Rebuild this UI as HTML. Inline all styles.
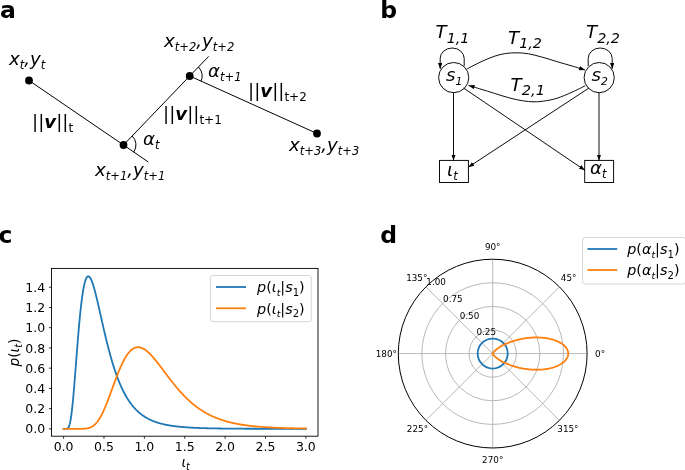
<!DOCTYPE html>
<html><head><meta charset="utf-8"><title>figure</title>
<style>
html,body{margin:0;padding:0;background:#fff;}
svg{display:block;will-change:transform;font-family:"DejaVu Sans","Liberation Sans",sans-serif;}
.it{font-style:italic;}
.b{font-weight:bold;}
</style></head><body>
<svg width="685" height="470" viewBox="0 0 685 470">
<rect width="685" height="470" fill="#fff"/>
<defs>
<marker id="ah" viewBox="0 0 6 4.4" refX="6" refY="2.2" markerWidth="6" markerHeight="4.4" markerUnits="userSpaceOnUse" orient="auto"><path d="M0,0 L6,2.2 L0,4.4 Z" fill="#000"/></marker>
</defs>

<g class="b" font-size="23.5" fill="#000">
<text x="0" y="18">a</text>
<text x="380.2" y="18">b</text>
<text x="-1.6" y="243">c</text>
<text x="380.2" y="242.8">d</text>
</g>
<g stroke="#000" stroke-width="1" fill="none">
<path d="M29,80.5 L123.5,145 L148.3,162"/>
<path d="M123.5,145 L189.7,76 L208.7,56.4"/>
<path d="M189.7,76 L317,133.5"/>
<path d="M132.2,136 A12.5,12.5 0 0 1 133.8,152"/>
<path d="M198.4,67 A12.5,12.5 0 0 1 201.1,81.1"/>
</g>
<circle cx="29" cy="80.5" r="3.9" fill="#000"/>
<circle cx="123.5" cy="145" r="3.9" fill="#000"/>
<circle cx="189.7" cy="76" r="3.9" fill="#000"/>
<circle cx="317" cy="133.5" r="3.9" fill="#000"/>
<g font-size="18.2" fill="#000">
<text x="9" y="65" class="it">x<tspan font-size="11.5" dy="4.0">t</tspan><tspan dy="-4.0" font-size="18.2">&#8203;</tspan>,y<tspan font-size="11.5" dy="4.0">t</tspan><tspan dy="-4.0" font-size="18.2">&#8203;</tspan></text>
<text x="95" y="176" class="it">x<tspan font-size="11.5" dy="4.0">t+1</tspan><tspan dy="-4.0" font-size="18.2">&#8203;</tspan>,y<tspan font-size="11.5" dy="4.0">t+1</tspan><tspan dy="-4.0" font-size="18.2">&#8203;</tspan></text>
<text x="164" y="47" class="it">x<tspan font-size="11.5" dy="4.0">t+2</tspan><tspan dy="-4.0" font-size="18.2">&#8203;</tspan>,y<tspan font-size="11.5" dy="4.0">t+2</tspan><tspan dy="-4.0" font-size="18.2">&#8203;</tspan></text>
<text x="289" y="151" class="it">x<tspan font-size="11.5" dy="4.0">t+3</tspan><tspan dy="-4.0" font-size="18.2">&#8203;</tspan>,y<tspan font-size="11.5" dy="4.0">t+3</tspan><tspan dy="-4.0" font-size="18.2">&#8203;</tspan></text>
<text x="143" y="145" class="it">α<tspan font-size="11.5" dy="4.0">t</tspan><tspan dy="-4.0" font-size="18.2">&#8203;</tspan></text>
<text x="208" y="77" class="it">α<tspan font-size="11.5" dy="4.0">t+1</tspan><tspan dy="-4.0" font-size="18.2">&#8203;</tspan></text>
<text x="32" y="128">||<tspan class="it b">v</tspan>||<tspan font-size="12" dy="4">t</tspan></text>
<text x="163" y="120">||<tspan class="it b">v</tspan>||<tspan font-size="12" dy="4">t+1</tspan></text>
<text x="248" y="97">||<tspan class="it b">v</tspan>||<tspan font-size="12" dy="4">t+2</tspan></text>
</g>
<g stroke="#000" stroke-width="0.95" fill="none">
<circle cx="453.7" cy="77.6" r="15.1"/>
<circle cx="599.2" cy="77.6" r="15.1"/>
<rect x="439.5" y="160.4" width="28.9" height="22.1"/>
<rect x="584.7" y="160.4" width="28.9" height="22.1"/>
<path d="M453.5,92.7 L453.5,160.5" marker-end="url(#ah)"/>
<path d="M599,92.7 L599,160.5" marker-end="url(#ah)"/>
<path d="M463.5,88 L584.9,170.3" marker-end="url(#ah)"/>
<path d="M589,88 L468.3,167.2" marker-end="url(#ah)"/>
<path d="M466.5,69.2 C468.9,68.0 476.4,63.9 481.0,61.8 C485.6,59.6 490.2,57.7 494.3,56.3 C498.4,54.9 501.8,54.1 505.6,53.5 C509.4,52.9 513.2,52.8 517.0,52.8 C520.8,52.8 524.3,53.1 528.4,53.8 C532.5,54.5 537.0,55.7 541.7,57.0 C546.5,58.3 551.9,60.1 556.9,61.6 C561.9,63.1 567.3,64.6 572.0,66.0 C576.7,67.4 582.8,69.3 585.0,70.0" marker-end="url(#ah)"/>
<path d="M585.3,85.7 C583.1,86.8 576.7,90.1 572.0,92.2 C567.3,94.3 561.6,96.8 556.9,98.3 C552.2,99.8 547.4,100.5 543.6,101.1 C539.8,101.7 537.6,101.8 534.1,101.8 C530.6,101.8 526.8,101.4 522.7,100.8 C518.6,100.2 514.1,99.2 509.4,97.9 C504.7,96.7 499.0,94.8 494.3,93.3 C489.6,91.8 485.3,90.5 481.0,89.2 C476.7,87.9 470.7,86.0 468.6,85.4" marker-end="url(#ah)"/>
<path d="M464.2,66 L464.2,58.5 A12,10.5 0 0 0 440.2,58.5 L440.2,68.9" marker-end="url(#ah)"/>
<path d="M588.2,66 L588.2,58.5 A12,10.5 0 0 1 612.2,58.5 L612.2,68.9" marker-end="url(#ah)"/>
</g>
<g font-size="18.2" fill="#000" class="it">
<text x="435.5" y="38.2">T<tspan font-size="14.3" dy="4.7">1,1</tspan><tspan dy="-4.7" font-size="18.2">&#8203;</tspan></text>
<text x="508" y="43.5">T<tspan font-size="14.3" dy="4.7">1,2</tspan><tspan dy="-4.7" font-size="18.2">&#8203;</tspan></text>
<text x="586" y="38.2">T<tspan font-size="14.3" dy="4.7">2,2</tspan><tspan dy="-4.7" font-size="18.2">&#8203;</tspan></text>
<text x="510.6" y="90.5">T<tspan font-size="14.6" dy="4.7">2,1</tspan><tspan dy="-4.7" font-size="18.2">&#8203;</tspan></text>
<text x="445.9" y="81.3">s<tspan font-size="10.8" dy="3.9">1</tspan><tspan dy="-3.9" font-size="18.2">&#8203;</tspan></text>
<text x="591.6" y="81.3">s<tspan font-size="10.8" dy="3.9">2</tspan><tspan dy="-3.9" font-size="18.2">&#8203;</tspan></text>
<text x="447" y="175.5">ι<tspan font-size="11.5" dy="4.0">t</tspan><tspan dy="-4.0" font-size="18.2">&#8203;</tspan></text>
<text x="590" y="174.3">α<tspan font-size="11.5" dy="4.0">t</tspan><tspan dy="-4.0" font-size="18.2">&#8203;</tspan></text>
</g>
<clipPath id="cc"><rect x="51.5" y="268.4" width="266.5" height="167.8"/></clipPath>
<g fill="none" stroke-width="1.8" stroke-linejoin="round" stroke-linecap="square" clip-path="url(#cc)">
<path d="M63.60,428.85 L64.00,428.85 L64.41,428.85 L64.81,428.85 L65.22,428.85 L65.62,428.85 L66.03,428.84 L66.43,428.82 L66.84,428.75 L67.24,428.63 L67.64,428.41 L68.05,428.05 L68.45,427.50 L68.86,426.73 L69.26,425.68 L69.67,424.33 L70.07,422.65 L70.48,420.62 L70.88,418.23 L71.29,415.47 L71.69,412.35 L72.09,408.89 L72.50,405.11 L72.90,401.03 L73.31,396.68 L73.71,392.09 L74.12,387.31 L74.52,382.36 L74.93,377.28 L75.33,372.11 L75.73,366.88 L76.14,361.63 L76.54,356.39 L76.95,351.19 L77.35,346.06 L77.76,341.02 L78.16,336.09 L78.57,331.30 L78.97,326.67 L79.37,322.20 L79.78,317.92 L80.18,313.84 L80.59,309.95 L80.99,306.28 L81.40,302.82 L81.80,299.59 L82.21,296.57 L82.61,293.78 L83.01,291.21 L83.42,288.87 L83.82,286.74 L84.23,284.82 L84.63,283.12 L85.04,281.62 L85.44,280.33 L85.85,279.22 L86.25,278.31 L86.66,277.58 L87.06,277.02 L87.46,276.63 L87.87,276.41 L88.27,276.33 L88.68,276.41 L89.08,276.62 L89.49,276.96 L89.89,277.43 L90.30,278.02 L90.70,278.72 L91.10,279.52 L91.51,280.43 L91.91,281.42 L92.32,282.50 L92.72,283.66 L93.13,284.89 L93.53,286.19 L93.94,287.55 L94.34,288.98 L94.74,290.45 L95.15,291.97 L95.55,293.54 L95.96,295.14 L96.36,296.78 L96.77,298.45 L97.17,300.14 L97.58,301.86 L97.98,303.60 L98.38,305.36 L98.79,307.13 L99.19,308.92 L99.60,310.71 L100.00,312.50 L100.41,314.30 L100.81,316.11 L101.22,317.91 L101.62,319.71 L102.03,321.50 L102.43,323.29 L102.83,325.07 L103.24,326.84 L103.64,328.60 L104.05,330.35 L104.45,332.08 L104.86,333.81 L105.26,335.51 L105.67,337.20 L106.07,338.88 L106.47,340.53 L106.88,342.17 L107.28,343.79 L107.69,345.39 L108.09,346.97 L108.50,348.53 L108.90,350.07 L109.31,351.59 L109.71,353.09 L110.11,354.56 L110.52,356.02 L110.92,357.45 L111.33,358.86 L111.73,360.25 L112.14,361.62 L112.54,362.96 L112.95,364.29 L113.35,365.59 L113.75,366.87 L114.16,368.13 L114.56,369.36 L114.97,370.58 L115.37,371.77 L115.78,372.94 L116.18,374.09 L116.59,375.22 L116.99,376.33 L117.40,377.42 L117.80,378.49 L118.20,379.54 L118.61,380.57 L119.01,381.57 L119.42,382.56 L119.82,383.53 L120.23,384.48 L120.63,385.42 L121.04,386.33 L121.44,387.23 L121.84,388.11 L122.25,388.97 L122.65,389.81 L123.06,390.64 L123.46,391.45 L123.87,392.24 L124.27,393.02 L124.68,393.78 L125.08,394.52 L125.48,395.25 L125.89,395.97 L126.29,396.67 L126.70,397.35 L127.10,398.03 L127.51,398.68 L127.91,399.33 L128.32,399.96 L128.72,400.57 L129.12,401.18 L129.53,401.77 L129.93,402.34 L130.34,402.91 L130.74,403.46 L131.15,404.01 L131.55,404.54 L131.96,405.05 L132.36,405.56 L132.77,406.06 L133.17,406.55 L133.57,407.02 L133.98,407.49 L134.38,407.94 L134.79,408.39 L135.19,408.82 L135.60,409.25 L136.00,409.67 L136.41,410.08 L136.81,410.48 L137.21,410.87 L137.62,411.25 L138.02,411.62 L138.43,411.99 L138.83,412.35 L139.24,412.70 L139.64,413.04 L140.05,413.37 L140.45,413.70 L140.85,414.02 L141.26,414.34 L141.66,414.64 L142.07,414.94 L142.47,415.24 L142.88,415.52 L143.28,415.80 L143.69,416.08 L144.09,416.35 L144.49,416.61 L144.90,416.87 L145.30,417.12 L145.71,417.36 L146.11,417.61 L146.52,417.84 L146.92,418.07 L147.33,418.30 L147.73,418.52 L148.14,418.73 L148.54,418.94 L148.94,419.15 L149.35,419.35 L149.75,419.55 L150.16,419.74 L150.56,419.93 L150.97,420.12 L151.37,420.30 L151.78,420.47 L152.18,420.65 L152.58,420.82 L152.99,420.98 L153.39,421.15 L153.80,421.30 L154.20,421.46 L154.61,421.61 L155.01,421.76 L155.42,421.90 L155.82,422.05 L156.22,422.19 L156.63,422.32 L157.03,422.46 L157.44,422.59 L157.84,422.71 L158.25,422.84 L158.65,422.96 L159.06,423.08 L159.46,423.20 L159.86,423.31 L160.27,423.42 L160.67,423.53 L161.08,423.64 L161.48,423.75 L161.89,423.85 L162.29,423.95 L162.70,424.05 L163.10,424.15 L163.51,424.24 L163.91,424.33 L164.31,424.42 L164.72,424.51 L165.12,424.60 L165.53,424.68 L165.93,424.77 L166.34,424.85 L166.74,424.93 L167.15,425.00 L167.55,425.08 L167.95,425.16 L168.36,425.23 L168.76,425.30 L169.17,425.37 L169.57,425.44 L169.98,425.51 L170.38,425.57 L170.79,425.64 L171.19,425.70 L171.59,425.76 L172.00,425.82 L172.40,425.88 L172.81,425.94 L173.21,426.00 L173.62,426.05 L174.02,426.11 L174.43,426.16 L174.83,426.21 L175.23,426.26 L175.64,426.31 L176.04,426.36 L176.45,426.41 L176.85,426.46 L177.26,426.50 L177.66,426.55 L178.07,426.59 L178.47,426.64 L178.88,426.68 L179.28,426.72 L179.68,426.76 L180.09,426.80 L180.49,426.84 L180.90,426.88 L181.30,426.92 L181.71,426.95 L182.11,426.99 L182.52,427.02 L182.92,427.06 L183.32,427.09 L183.73,427.13 L184.13,427.16 L184.54,427.19 L184.94,427.22 L185.35,427.25 L185.75,427.28 L186.16,427.31 L186.56,427.34 L186.96,427.37 L187.37,427.40 L187.77,427.42 L188.18,427.45 L188.58,427.48 L188.99,427.50 L189.39,427.53 L189.80,427.55 L190.20,427.57 L190.60,427.60 L191.01,427.62 L191.41,427.64 L191.82,427.67 L192.22,427.69 L192.63,427.71 L193.03,427.73 L193.44,427.75 L193.84,427.77 L194.25,427.79 L194.65,427.81 L195.05,427.83 L195.46,427.85 L195.86,427.87 L196.27,427.88 L196.67,427.90 L197.08,427.92 L197.48,427.94 L197.89,427.95 L198.29,427.97 L198.69,427.98 L199.10,428.00 L199.50,428.02 L199.91,428.03 L200.31,428.05 L200.72,428.06 L201.12,428.07 L201.53,428.09 L201.93,428.10 L202.33,428.11 L202.74,428.13 L203.14,428.14 L203.55,428.15 L203.95,428.17 L204.36,428.18 L204.76,428.19 L205.17,428.20 L205.57,428.21 L205.97,428.22 L206.38,428.24 L206.78,428.25 L207.19,428.26 L207.59,428.27 L208.00,428.28 L208.40,428.29 L208.81,428.30 L209.21,428.31 L209.62,428.32 L210.02,428.33 L210.42,428.33 L210.83,428.34 L211.23,428.35 L211.64,428.36 L212.04,428.37 L212.45,428.38 L212.85,428.39 L213.26,428.39 L213.66,428.40 L214.06,428.41 L214.47,428.42 L214.87,428.42 L215.28,428.43 L215.68,428.44 L216.09,428.45 L216.49,428.45 L216.90,428.46 L217.30,428.47 L217.70,428.47 L218.11,428.48 L218.51,428.49 L218.92,428.49 L219.32,428.50 L219.73,428.50 L220.13,428.51 L220.54,428.52 L220.94,428.52 L221.34,428.53 L221.75,428.53 L222.15,428.54 L222.56,428.54 L222.96,428.55 L223.37,428.55 L223.77,428.56 L224.18,428.56 L224.58,428.57 L224.99,428.57 L225.39,428.58 L225.79,428.58 L226.20,428.59 L226.60,428.59 L227.01,428.60 L227.41,428.60 L227.82,428.60 L228.22,428.61 L228.63,428.61 L229.03,428.62 L229.43,428.62 L229.84,428.62 L230.24,428.63 L230.65,428.63 L231.05,428.63 L231.46,428.64 L231.86,428.64 L232.27,428.64 L232.67,428.65 L233.07,428.65 L233.48,428.65 L233.88,428.66 L234.29,428.66 L234.69,428.66 L235.10,428.67 L235.50,428.67 L235.91,428.67 L236.31,428.68 L236.71,428.68 L237.12,428.68 L237.52,428.68 L237.93,428.69 L238.33,428.69 L238.74,428.69 L239.14,428.69 L239.55,428.70 L239.95,428.70 L240.36,428.70 L240.76,428.70 L241.16,428.71 L241.57,428.71 L241.97,428.71 L242.38,428.71 L242.78,428.72 L243.19,428.72 L243.59,428.72 L244.00,428.72 L244.40,428.72 L244.80,428.73 L245.21,428.73 L245.61,428.73 L246.02,428.73 L246.42,428.73 L246.83,428.74 L247.23,428.74 L247.64,428.74 L248.04,428.74 L248.44,428.74 L248.85,428.74 L249.25,428.75 L249.66,428.75 L250.06,428.75 L250.47,428.75 L250.87,428.75 L251.28,428.75 L251.68,428.75 L252.08,428.76 L252.49,428.76 L252.89,428.76 L253.30,428.76 L253.70,428.76 L254.11,428.76 L254.51,428.76 L254.92,428.77 L255.32,428.77 L255.73,428.77 L256.13,428.77 L256.53,428.77 L256.94,428.77 L257.34,428.77 L257.75,428.77 L258.15,428.78 L258.56,428.78 L258.96,428.78 L259.37,428.78 L259.77,428.78 L260.17,428.78 L260.58,428.78 L260.98,428.78 L261.39,428.78 L261.79,428.79 L262.20,428.79 L262.60,428.79 L263.01,428.79 L263.41,428.79 L263.81,428.79 L264.22,428.79 L264.62,428.79 L265.03,428.79 L265.43,428.79 L265.84,428.79 L266.24,428.80 L266.65,428.80 L267.05,428.80 L267.45,428.80 L267.86,428.80 L268.26,428.80 L268.67,428.80 L269.07,428.80 L269.48,428.80 L269.88,428.80 L270.29,428.80 L270.69,428.80 L271.10,428.80 L271.50,428.80 L271.90,428.81 L272.31,428.81 L272.71,428.81 L273.12,428.81 L273.52,428.81 L273.93,428.81 L274.33,428.81 L274.74,428.81 L275.14,428.81 L275.54,428.81 L275.95,428.81 L276.35,428.81 L276.76,428.81 L277.16,428.81 L277.57,428.81 L277.97,428.81 L278.38,428.81 L278.78,428.82 L279.18,428.82 L279.59,428.82 L279.99,428.82 L280.40,428.82 L280.80,428.82 L281.21,428.82 L281.61,428.82 L282.02,428.82 L282.42,428.82 L282.82,428.82 L283.23,428.82 L283.63,428.82 L284.04,428.82 L284.44,428.82 L284.85,428.82 L285.25,428.82 L285.66,428.82 L286.06,428.82 L286.47,428.82 L286.87,428.82 L287.27,428.82 L287.68,428.82 L288.08,428.83 L288.49,428.83 L288.89,428.83 L289.30,428.83 L289.70,428.83 L290.11,428.83 L290.51,428.83 L290.91,428.83 L291.32,428.83 L291.72,428.83 L292.13,428.83 L292.53,428.83 L292.94,428.83 L293.34,428.83 L293.75,428.83 L294.15,428.83 L294.55,428.83 L294.96,428.83 L295.36,428.83 L295.77,428.83 L296.17,428.83 L296.58,428.83 L296.98,428.83 L297.39,428.83 L297.79,428.83 L298.19,428.83 L298.60,428.83 L299.00,428.83 L299.41,428.83 L299.81,428.83 L300.22,428.83 L300.62,428.83 L301.03,428.83 L301.43,428.83 L301.84,428.83 L302.24,428.83 L302.64,428.83 L303.05,428.84 L303.45,428.84 L303.86,428.84 L304.26,428.84 L304.67,428.84 L305.07,428.84 L305.48,428.84 L305.88,428.84" stroke="#1f77b4"/>
<path d="M63.60,428.85 L64.00,428.85 L64.41,428.85 L64.81,428.85 L65.22,428.85 L65.62,428.85 L66.03,428.85 L66.43,428.85 L66.84,428.85 L67.24,428.85 L67.64,428.85 L68.05,428.85 L68.45,428.85 L68.86,428.85 L69.26,428.85 L69.67,428.85 L70.07,428.85 L70.48,428.85 L70.88,428.85 L71.29,428.85 L71.69,428.85 L72.09,428.85 L72.50,428.85 L72.90,428.85 L73.31,428.85 L73.71,428.85 L74.12,428.85 L74.52,428.85 L74.93,428.85 L75.33,428.85 L75.73,428.85 L76.14,428.85 L76.54,428.85 L76.95,428.85 L77.35,428.85 L77.76,428.85 L78.16,428.85 L78.57,428.85 L78.97,428.85 L79.37,428.84 L79.78,428.84 L80.18,428.84 L80.59,428.83 L80.99,428.83 L81.40,428.82 L81.80,428.81 L82.21,428.80 L82.61,428.79 L83.01,428.78 L83.42,428.76 L83.82,428.74 L84.23,428.72 L84.63,428.69 L85.04,428.66 L85.44,428.62 L85.85,428.57 L86.25,428.52 L86.66,428.47 L87.06,428.40 L87.46,428.33 L87.87,428.24 L88.27,428.15 L88.68,428.05 L89.08,427.93 L89.49,427.80 L89.89,427.66 L90.30,427.50 L90.70,427.33 L91.10,427.15 L91.51,426.94 L91.91,426.72 L92.32,426.48 L92.72,426.23 L93.13,425.95 L93.53,425.65 L93.94,425.33 L94.34,424.99 L94.74,424.63 L95.15,424.25 L95.55,423.84 L95.96,423.41 L96.36,422.96 L96.77,422.48 L97.17,421.98 L97.58,421.45 L97.98,420.90 L98.38,420.33 L98.79,419.72 L99.19,419.10 L99.60,418.45 L100.00,417.77 L100.41,417.07 L100.81,416.35 L101.22,415.60 L101.62,414.83 L102.03,414.04 L102.43,413.22 L102.83,412.39 L103.24,411.53 L103.64,410.65 L104.05,409.75 L104.45,408.83 L104.86,407.89 L105.26,406.94 L105.67,405.96 L106.07,404.98 L106.47,403.97 L106.88,402.95 L107.28,401.92 L107.69,400.88 L108.09,399.83 L108.50,398.76 L108.90,397.69 L109.31,396.60 L109.71,395.51 L110.11,394.42 L110.52,393.32 L110.92,392.21 L111.33,391.10 L111.73,389.99 L112.14,388.88 L112.54,387.77 L112.95,386.66 L113.35,385.55 L113.75,384.44 L114.16,383.34 L114.56,382.24 L114.97,381.15 L115.37,380.07 L115.78,378.99 L116.18,377.92 L116.59,376.86 L116.99,375.82 L117.40,374.78 L117.80,373.75 L118.20,372.74 L118.61,371.74 L119.01,370.76 L119.42,369.79 L119.82,368.83 L120.23,367.90 L120.63,366.98 L121.04,366.07 L121.44,365.19 L121.84,364.32 L122.25,363.47 L122.65,362.64 L123.06,361.83 L123.46,361.04 L123.87,360.27 L124.27,359.52 L124.68,358.79 L125.08,358.09 L125.48,357.40 L125.89,356.74 L126.29,356.10 L126.70,355.48 L127.10,354.88 L127.51,354.31 L127.91,353.76 L128.32,353.23 L128.72,352.72 L129.12,352.24 L129.53,351.78 L129.93,351.34 L130.34,350.93 L130.74,350.54 L131.15,350.17 L131.55,349.82 L131.96,349.50 L132.36,349.19 L132.77,348.91 L133.17,348.66 L133.57,348.42 L133.98,348.21 L134.38,348.01 L134.79,347.84 L135.19,347.69 L135.60,347.56 L136.00,347.45 L136.41,347.36 L136.81,347.29 L137.21,347.24 L137.62,347.21 L138.02,347.20 L138.43,347.21 L138.83,347.24 L139.24,347.28 L139.64,347.34 L140.05,347.42 L140.45,347.52 L140.85,347.64 L141.26,347.77 L141.66,347.91 L142.07,348.08 L142.47,348.25 L142.88,348.45 L143.28,348.66 L143.69,348.88 L144.09,349.11 L144.49,349.37 L144.90,349.63 L145.30,349.91 L145.71,350.20 L146.11,350.50 L146.52,350.81 L146.92,351.14 L147.33,351.47 L147.73,351.82 L148.14,352.18 L148.54,352.55 L148.94,352.93 L149.35,353.31 L149.75,353.71 L150.16,354.12 L150.56,354.53 L150.97,354.95 L151.37,355.39 L151.78,355.82 L152.18,356.27 L152.58,356.72 L152.99,357.18 L153.39,357.65 L153.80,358.12 L154.20,358.60 L154.61,359.08 L155.01,359.57 L155.42,360.06 L155.82,360.56 L156.22,361.06 L156.63,361.57 L157.03,362.08 L157.44,362.59 L157.84,363.11 L158.25,363.63 L158.65,364.15 L159.06,364.68 L159.46,365.21 L159.86,365.74 L160.27,366.27 L160.67,366.80 L161.08,367.34 L161.48,367.88 L161.89,368.41 L162.29,368.95 L162.70,369.49 L163.10,370.03 L163.51,370.58 L163.91,371.12 L164.31,371.66 L164.72,372.20 L165.12,372.74 L165.53,373.28 L165.93,373.82 L166.34,374.36 L166.74,374.90 L167.15,375.44 L167.55,375.97 L167.95,376.51 L168.36,377.04 L168.76,377.57 L169.17,378.10 L169.57,378.63 L169.98,379.16 L170.38,379.69 L170.79,380.21 L171.19,380.73 L171.59,381.25 L172.00,381.76 L172.40,382.28 L172.81,382.79 L173.21,383.30 L173.62,383.80 L174.02,384.31 L174.43,384.81 L174.83,385.30 L175.23,385.80 L175.64,386.29 L176.04,386.78 L176.45,387.26 L176.85,387.75 L177.26,388.22 L177.66,388.70 L178.07,389.17 L178.47,389.64 L178.88,390.11 L179.28,390.57 L179.68,391.03 L180.09,391.48 L180.49,391.93 L180.90,392.38 L181.30,392.82 L181.71,393.26 L182.11,393.70 L182.52,394.14 L182.92,394.56 L183.32,394.99 L183.73,395.41 L184.13,395.83 L184.54,396.25 L184.94,396.66 L185.35,397.06 L185.75,397.47 L186.16,397.87 L186.56,398.26 L186.96,398.65 L187.37,399.04 L187.77,399.43 L188.18,399.81 L188.58,400.18 L188.99,400.56 L189.39,400.93 L189.80,401.29 L190.20,401.65 L190.60,402.01 L191.01,402.37 L191.41,402.72 L191.82,403.06 L192.22,403.41 L192.63,403.75 L193.03,404.08 L193.44,404.41 L193.84,404.74 L194.25,405.07 L194.65,405.39 L195.05,405.71 L195.46,406.02 L195.86,406.33 L196.27,406.64 L196.67,406.94 L197.08,407.24 L197.48,407.54 L197.89,407.83 L198.29,408.12 L198.69,408.41 L199.10,408.69 L199.50,408.97 L199.91,409.24 L200.31,409.52 L200.72,409.79 L201.12,410.05 L201.53,410.32 L201.93,410.58 L202.33,410.83 L202.74,411.09 L203.14,411.34 L203.55,411.58 L203.95,411.83 L204.36,412.07 L204.76,412.31 L205.17,412.54 L205.57,412.77 L205.97,413.00 L206.38,413.23 L206.78,413.45 L207.19,413.67 L207.59,413.89 L208.00,414.11 L208.40,414.32 L208.81,414.53 L209.21,414.73 L209.62,414.94 L210.02,415.14 L210.42,415.34 L210.83,415.53 L211.23,415.73 L211.64,415.92 L212.04,416.11 L212.45,416.29 L212.85,416.47 L213.26,416.66 L213.66,416.83 L214.06,417.01 L214.47,417.18 L214.87,417.35 L215.28,417.52 L215.68,417.69 L216.09,417.85 L216.49,418.02 L216.90,418.18 L217.30,418.33 L217.70,418.49 L218.11,418.64 L218.51,418.79 L218.92,418.94 L219.32,419.09 L219.73,419.23 L220.13,419.38 L220.54,419.52 L220.94,419.66 L221.34,419.79 L221.75,419.93 L222.15,420.06 L222.56,420.19 L222.96,420.32 L223.37,420.45 L223.77,420.58 L224.18,420.70 L224.58,420.82 L224.99,420.94 L225.39,421.06 L225.79,421.18 L226.20,421.29 L226.60,421.41 L227.01,421.52 L227.41,421.63 L227.82,421.74 L228.22,421.85 L228.63,421.95 L229.03,422.06 L229.43,422.16 L229.84,422.26 L230.24,422.36 L230.65,422.46 L231.05,422.56 L231.46,422.65 L231.86,422.75 L232.27,422.84 L232.67,422.93 L233.07,423.02 L233.48,423.11 L233.88,423.20 L234.29,423.28 L234.69,423.37 L235.10,423.45 L235.50,423.53 L235.91,423.61 L236.31,423.69 L236.71,423.77 L237.12,423.85 L237.52,423.93 L237.93,424.00 L238.33,424.07 L238.74,424.15 L239.14,424.22 L239.55,424.29 L239.95,424.36 L240.36,424.43 L240.76,424.50 L241.16,424.56 L241.57,424.63 L241.97,424.69 L242.38,424.76 L242.78,424.82 L243.19,424.88 L243.59,424.94 L244.00,425.00 L244.40,425.06 L244.80,425.12 L245.21,425.18 L245.61,425.23 L246.02,425.29 L246.42,425.34 L246.83,425.40 L247.23,425.45 L247.64,425.50 L248.04,425.56 L248.44,425.61 L248.85,425.66 L249.25,425.71 L249.66,425.75 L250.06,425.80 L250.47,425.85 L250.87,425.90 L251.28,425.94 L251.68,425.99 L252.08,426.03 L252.49,426.07 L252.89,426.12 L253.30,426.16 L253.70,426.20 L254.11,426.24 L254.51,426.28 L254.92,426.32 L255.32,426.36 L255.73,426.40 L256.13,426.44 L256.53,426.47 L256.94,426.51 L257.34,426.55 L257.75,426.58 L258.15,426.62 L258.56,426.65 L258.96,426.69 L259.37,426.72 L259.77,426.75 L260.17,426.78 L260.58,426.82 L260.98,426.85 L261.39,426.88 L261.79,426.91 L262.20,426.94 L262.60,426.97 L263.01,427.00 L263.41,427.03 L263.81,427.05 L264.22,427.08 L264.62,427.11 L265.03,427.14 L265.43,427.16 L265.84,427.19 L266.24,427.22 L266.65,427.24 L267.05,427.27 L267.45,427.29 L267.86,427.31 L268.26,427.34 L268.67,427.36 L269.07,427.38 L269.48,427.41 L269.88,427.43 L270.29,427.45 L270.69,427.47 L271.10,427.49 L271.50,427.52 L271.90,427.54 L272.31,427.56 L272.71,427.58 L273.12,427.60 L273.52,427.62 L273.93,427.63 L274.33,427.65 L274.74,427.67 L275.14,427.69 L275.54,427.71 L275.95,427.73 L276.35,427.74 L276.76,427.76 L277.16,427.78 L277.57,427.79 L277.97,427.81 L278.38,427.83 L278.78,427.84 L279.18,427.86 L279.59,427.87 L279.99,427.89 L280.40,427.90 L280.80,427.92 L281.21,427.93 L281.61,427.95 L282.02,427.96 L282.42,427.97 L282.82,427.99 L283.23,428.00 L283.63,428.01 L284.04,428.03 L284.44,428.04 L284.85,428.05 L285.25,428.06 L285.66,428.08 L286.06,428.09 L286.47,428.10 L286.87,428.11 L287.27,428.12 L287.68,428.13 L288.08,428.14 L288.49,428.16 L288.89,428.17 L289.30,428.18 L289.70,428.19 L290.11,428.20 L290.51,428.21 L290.91,428.22 L291.32,428.23 L291.72,428.24 L292.13,428.25 L292.53,428.26 L292.94,428.26 L293.34,428.27 L293.75,428.28 L294.15,428.29 L294.55,428.30 L294.96,428.31 L295.36,428.32 L295.77,428.32 L296.17,428.33 L296.58,428.34 L296.98,428.35 L297.39,428.36 L297.79,428.36 L298.19,428.37 L298.60,428.38 L299.00,428.39 L299.41,428.39 L299.81,428.40 L300.22,428.41 L300.62,428.41 L301.03,428.42 L301.43,428.43 L301.84,428.43 L302.24,428.44 L302.64,428.45 L303.05,428.45 L303.45,428.46 L303.86,428.46 L304.26,428.47 L304.67,428.48 L305.07,428.48 L305.48,428.49 L305.88,428.49" stroke="#ff7f0e"/>
</g>
<rect x="51.5" y="268.4" width="266.5" height="167.8" fill="none" stroke="#000" stroke-width="0.9"/>
<g stroke="#000" stroke-width="0.8">
<line x1="63.60" y1="436.2" x2="63.60" y2="438.8"/>
<line x1="103.98" y1="436.2" x2="103.98" y2="438.8"/>
<line x1="144.36" y1="436.2" x2="144.36" y2="438.8"/>
<line x1="184.74" y1="436.2" x2="184.74" y2="438.8"/>
<line x1="225.12" y1="436.2" x2="225.12" y2="438.8"/>
<line x1="265.50" y1="436.2" x2="265.50" y2="438.8"/>
<line x1="305.88" y1="436.2" x2="305.88" y2="438.8"/>
<line x1="51.5" y1="428.85" x2="48.9" y2="428.85"/>
<line x1="51.5" y1="408.62" x2="48.9" y2="408.62"/>
<line x1="51.5" y1="388.39" x2="48.9" y2="388.39"/>
<line x1="51.5" y1="368.16" x2="48.9" y2="368.16"/>
<line x1="51.5" y1="347.93" x2="48.9" y2="347.93"/>
<line x1="51.5" y1="327.70" x2="48.9" y2="327.70"/>
<line x1="51.5" y1="307.47" x2="48.9" y2="307.47"/>
<line x1="51.5" y1="287.24" x2="48.9" y2="287.24"/>
</g>
<g font-size="12.5" fill="#000">
<text x="63.60" y="451.4" text-anchor="middle">0.0</text>
<text x="103.98" y="451.4" text-anchor="middle">0.5</text>
<text x="144.36" y="451.4" text-anchor="middle">1.0</text>
<text x="184.74" y="451.4" text-anchor="middle">1.5</text>
<text x="225.12" y="451.4" text-anchor="middle">2.0</text>
<text x="265.50" y="451.4" text-anchor="middle">2.5</text>
<text x="305.88" y="451.4" text-anchor="middle">3.0</text>
<text x="45.2" y="433.45" text-anchor="end">0.0</text>
<text x="45.2" y="413.22" text-anchor="end">0.2</text>
<text x="45.2" y="392.99" text-anchor="end">0.4</text>
<text x="45.2" y="372.76" text-anchor="end">0.6</text>
<text x="45.2" y="352.53" text-anchor="end">0.8</text>
<text x="45.2" y="332.30" text-anchor="end">1.0</text>
<text x="45.2" y="312.07" text-anchor="end">1.2</text>
<text x="45.2" y="291.84" text-anchor="end">1.4</text>
</g>
<text x="181.4" y="467" font-size="13.8" class="it">ι<tspan font-size="9.7" dy="2.6">t</tspan></text>
<text transform="translate(19.2,352.6) rotate(-90)" font-size="13.8" text-anchor="middle"><tspan class="it">p</tspan>(<tspan class="it">ι</tspan><tspan class="it" font-size="9.7" dy="2.6">t</tspan><tspan dy="-2.6">)</tspan></text>
<rect x="210.5" y="275.5" width="100.8" height="46.2" rx="2.5" fill="#fff" fill-opacity="0.8" stroke="#ccc" stroke-opacity="0.8" stroke-width="1"/>
<line x1="216" y1="287" x2="246" y2="287" stroke="#1f77b4" stroke-width="1.8"/>
<line x1="216" y1="308.3" x2="246" y2="308.3" stroke="#ff7f0e" stroke-width="1.8"/>
<text x="257" y="292" font-size="14.4"><tspan class="it">p</tspan>(<tspan class="it">ι</tspan><tspan class="it" font-size="9.3" dy="3.5">t</tspan><tspan dy="-3.5">|</tspan><tspan class="it">s</tspan><tspan font-size="10.1" dy="3.5">1</tspan><tspan dy="-3.5">)</tspan></text>
<text x="257" y="313.5" font-size="14.4"><tspan class="it">p</tspan>(<tspan class="it">ι</tspan><tspan class="it" font-size="9.3" dy="3.5">t</tspan><tspan dy="-3.5">|</tspan><tspan class="it">s</tspan><tspan font-size="10.1" dy="3.5">2</tspan><tspan dy="-3.5">)</tspan></text>
<g fill="none" stroke="#b0b0b0" stroke-width="0.9">
<circle cx="492.7" cy="353.6" r="23.60"/>
<circle cx="492.7" cy="353.6" r="47.20"/>
<circle cx="492.7" cy="353.6" r="70.80"/>
<line x1="398.30" y1="353.60" x2="587.10" y2="353.60"/>
<line x1="425.95" y1="420.35" x2="559.45" y2="286.85"/>
<line x1="492.70" y1="448.00" x2="492.70" y2="259.20"/>
<line x1="559.45" y1="420.35" x2="425.95" y2="286.85"/>
</g>
<circle cx="492.7" cy="353.6" r="15.02" fill="none" stroke="#1f77b4" stroke-width="1.8"/>
<path d="M492.70,353.60 L492.70,353.60 L492.70,353.60 L492.70,353.60 L492.70,353.60 L492.70,353.60 L492.70,353.60 L492.70,353.60 L492.70,353.60 L492.70,353.60 L492.70,353.60 L492.70,353.60 L492.70,353.60 L492.70,353.60 L492.70,353.60 L492.70,353.60 L492.70,353.60 L492.70,353.60 L492.70,353.60 L492.70,353.60 L492.70,353.60 L492.70,353.60 L492.70,353.60 L492.70,353.60 L492.70,353.60 L492.70,353.60 L492.70,353.60 L492.70,353.60 L492.70,353.60 L492.70,353.60 L492.70,353.60 L492.70,353.60 L492.70,353.60 L492.70,353.60 L492.70,353.60 L492.70,353.60 L492.70,353.60 L492.70,353.60 L492.70,353.60 L492.70,353.60 L492.70,353.60 L492.70,353.60 L492.70,353.60 L492.70,353.60 L492.70,353.60 L492.70,353.60 L492.70,353.60 L492.70,353.60 L492.70,353.60 L492.70,353.60 L492.70,353.60 L492.70,353.60 L492.70,353.60 L492.70,353.60 L492.70,353.60 L492.70,353.60 L492.70,353.60 L492.70,353.60 L492.70,353.60 L492.70,353.60 L492.70,353.60 L492.70,353.60 L492.70,353.60 L492.70,353.60 L492.70,353.60 L492.70,353.60 L492.70,353.60 L492.70,353.60 L492.70,353.60 L492.70,353.60 L492.70,353.60 L492.70,353.60 L492.70,353.60 L492.70,353.60 L492.70,353.60 L492.70,353.60 L492.70,353.60 L492.70,353.60 L492.70,353.60 L492.70,353.60 L492.70,353.60 L492.70,353.60 L492.70,353.60 L492.70,353.60 L492.70,353.60 L492.70,353.60 L492.70,353.60 L492.70,353.60 L492.70,353.60 L492.70,353.60 L492.70,353.60 L492.70,353.60 L492.70,353.60 L492.70,353.60 L492.70,353.60 L492.70,353.60 L492.70,353.60 L492.70,353.60 L492.70,353.60 L492.70,353.60 L492.70,353.60 L492.70,353.60 L492.70,353.60 L492.70,353.60 L492.70,353.60 L492.70,353.60 L492.70,353.60 L492.70,353.60 L492.70,353.60 L492.70,353.60 L492.70,353.60 L492.70,353.60 L492.70,353.60 L492.70,353.60 L492.70,353.60 L492.70,353.60 L492.70,353.60 L492.70,353.60 L492.70,353.60 L492.70,353.60 L492.70,353.60 L492.70,353.60 L492.70,353.60 L492.70,353.60 L492.70,353.60 L492.70,353.60 L492.70,353.60 L492.70,353.60 L492.70,353.60 L492.70,353.60 L492.70,353.60 L492.70,353.60 L492.70,353.60 L492.70,353.60 L492.70,353.60 L492.70,353.60 L492.70,353.60 L492.70,353.60 L492.70,353.60 L492.70,353.60 L492.70,353.60 L492.70,353.60 L492.70,353.60 L492.70,353.60 L492.70,353.60 L492.70,353.60 L492.70,353.60 L492.70,353.60 L492.70,353.60 L492.70,353.60 L492.70,353.60 L492.70,353.60 L492.70,353.60 L492.70,353.60 L492.70,353.61 L492.70,353.61 L492.70,353.61 L492.70,353.61 L492.70,353.61 L492.70,353.61 L492.70,353.61 L492.70,353.61 L492.70,353.61 L492.70,353.61 L492.70,353.61 L492.70,353.61 L492.70,353.61 L492.70,353.61 L492.70,353.61 L492.70,353.61 L492.70,353.62 L492.70,353.62 L492.70,353.62 L492.70,353.62 L492.70,353.62 L492.70,353.62 L492.70,353.62 L492.70,353.63 L492.70,353.63 L492.70,353.63 L492.70,353.63 L492.70,353.63 L492.70,353.64 L492.70,353.64 L492.70,353.64 L492.70,353.64 L492.70,353.65 L492.70,353.65 L492.70,353.65 L492.70,353.66 L492.71,353.66 L492.71,353.67 L492.71,353.67 L492.71,353.67 L492.71,353.68 L492.71,353.68 L492.71,353.69 L492.71,353.70 L492.72,353.70 L492.72,353.71 L492.72,353.72 L492.72,353.73 L492.73,353.73 L492.73,353.74 L492.73,353.75 L492.74,353.76 L492.74,353.77 L492.74,353.79 L492.75,353.80 L492.75,353.81 L492.76,353.83 L492.77,353.84 L492.77,353.86 L492.78,353.87 L492.79,353.89 L492.80,353.91 L492.81,353.93 L492.82,353.95 L492.83,353.97 L492.84,353.99 L492.85,354.02 L492.87,354.05 L492.88,354.07 L492.90,354.10 L492.92,354.13 L492.93,354.17 L492.95,354.20 L492.98,354.24 L493.00,354.27 L493.03,354.32 L493.05,354.36 L493.08,354.40 L493.11,354.45 L493.15,354.50 L493.18,354.55 L493.22,354.61 L493.27,354.66 L493.31,354.72 L493.36,354.79 L493.41,354.85 L493.46,354.92 L493.52,355.00 L493.59,355.07 L493.65,355.15 L493.72,355.24 L493.80,355.32 L493.88,355.42 L493.97,355.51 L494.06,355.61 L494.15,355.71 L494.26,355.82 L494.37,355.94 L494.48,356.05 L494.61,356.17 L494.74,356.30 L494.87,356.43 L495.02,356.57 L495.17,356.71 L495.34,356.86 L495.51,357.01 L495.69,357.17 L495.89,357.33 L496.09,357.50 L496.30,357.67 L496.53,357.85 L496.76,358.03 L497.01,358.22 L497.27,358.42 L497.55,358.62 L497.84,358.83 L498.14,359.04 L498.45,359.25 L498.78,359.48 L499.13,359.70 L499.49,359.94 L499.87,360.17 L500.27,360.42 L500.68,360.66 L501.11,360.91 L501.56,361.17 L502.03,361.43 L502.51,361.69 L503.02,361.96 L503.54,362.23 L504.09,362.50 L504.65,362.77 L505.24,363.05 L505.85,363.33 L506.47,363.61 L507.12,363.89 L507.79,364.17 L508.49,364.45 L509.20,364.73 L509.94,365.01 L510.69,365.29 L511.48,365.56 L512.28,365.83 L513.10,366.10 L513.95,366.37 L514.81,366.63 L515.70,366.88 L516.61,367.13 L517.54,367.37 L518.49,367.60 L519.46,367.83 L520.45,368.04 L521.46,368.25 L522.48,368.45 L523.52,368.63 L524.58,368.81 L525.66,368.97 L526.75,369.12 L527.85,369.25 L528.97,369.37 L530.09,369.47 L531.23,369.56 L532.38,369.63 L533.53,369.69 L534.70,369.72 L535.86,369.74 L537.04,369.74 L538.21,369.72 L539.38,369.67 L540.56,369.61 L541.73,369.53 L542.90,369.43 L544.06,369.30 L545.22,369.16 L546.36,368.99 L547.50,368.80 L548.62,368.58 L549.73,368.35 L550.82,368.09 L551.90,367.81 L552.95,367.51 L553.98,367.19 L554.99,366.84 L555.98,366.47 L556.93,366.09 L557.86,365.68 L558.76,365.25 L559.63,364.80 L560.46,364.33 L561.26,363.85 L562.02,363.34 L562.74,362.82 L563.42,362.28 L564.07,361.73 L564.66,361.16 L565.22,360.58 L565.73,359.99 L566.20,359.38 L566.62,358.77 L566.99,358.14 L567.31,357.51 L567.59,356.87 L567.82,356.22 L567.99,355.57 L568.12,354.92 L568.19,354.26 L568.22,353.60 L568.19,352.94 L568.12,352.28 L567.99,351.63 L567.82,350.98 L567.59,350.33 L567.31,349.69 L566.99,349.06 L566.62,348.43 L566.20,347.82 L565.73,347.21 L565.22,346.62 L564.66,346.04 L564.07,345.47 L563.42,344.92 L562.74,344.38 L562.02,343.86 L561.26,343.35 L560.46,342.87 L559.63,342.40 L558.76,341.95 L557.86,341.52 L556.93,341.11 L555.98,340.73 L554.99,340.36 L553.98,340.01 L552.95,339.69 L551.90,339.39 L550.82,339.11 L549.73,338.85 L548.62,338.62 L547.50,338.40 L546.36,338.21 L545.22,338.04 L544.06,337.90 L542.90,337.77 L541.73,337.67 L540.56,337.59 L539.38,337.53 L538.21,337.48 L537.04,337.46 L535.86,337.46 L534.70,337.48 L533.53,337.51 L532.38,337.57 L531.23,337.64 L530.09,337.73 L528.97,337.83 L527.85,337.95 L526.75,338.08 L525.66,338.23 L524.58,338.39 L523.52,338.57 L522.48,338.75 L521.46,338.95 L520.45,339.16 L519.46,339.37 L518.49,339.60 L517.54,339.83 L516.61,340.07 L515.70,340.32 L514.81,340.57 L513.95,340.83 L513.10,341.10 L512.28,341.37 L511.48,341.64 L510.69,341.91 L509.94,342.19 L509.20,342.47 L508.49,342.75 L507.79,343.03 L507.12,343.31 L506.47,343.59 L505.85,343.87 L505.24,344.15 L504.65,344.43 L504.09,344.70 L503.54,344.97 L503.02,345.24 L502.51,345.51 L502.03,345.77 L501.56,346.03 L501.11,346.29 L500.68,346.54 L500.27,346.78 L499.87,347.03 L499.49,347.26 L499.13,347.50 L498.78,347.72 L498.45,347.95 L498.14,348.16 L497.84,348.37 L497.55,348.58 L497.27,348.78 L497.01,348.98 L496.76,349.17 L496.53,349.35 L496.30,349.53 L496.09,349.70 L495.89,349.87 L495.69,350.03 L495.51,350.19 L495.34,350.34 L495.17,350.49 L495.02,350.63 L494.87,350.77 L494.74,350.90 L494.61,351.03 L494.48,351.15 L494.37,351.26 L494.26,351.38 L494.15,351.49 L494.06,351.59 L493.97,351.69 L493.88,351.78 L493.80,351.88 L493.72,351.96 L493.65,352.05 L493.59,352.13 L493.52,352.20 L493.46,352.28 L493.41,352.35 L493.36,352.41 L493.31,352.48 L493.27,352.54 L493.22,352.59 L493.18,352.65 L493.15,352.70 L493.11,352.75 L493.08,352.80 L493.05,352.84 L493.03,352.88 L493.00,352.93 L492.98,352.96 L492.95,353.00 L492.93,353.03 L492.92,353.07 L492.90,353.10 L492.88,353.13 L492.87,353.15 L492.85,353.18 L492.84,353.21 L492.83,353.23 L492.82,353.25 L492.81,353.27 L492.80,353.29 L492.79,353.31 L492.78,353.33 L492.77,353.34 L492.77,353.36 L492.76,353.37 L492.75,353.39 L492.75,353.40 L492.74,353.41 L492.74,353.43 L492.74,353.44 L492.73,353.45 L492.73,353.46 L492.73,353.47 L492.72,353.47 L492.72,353.48 L492.72,353.49 L492.72,353.50 L492.71,353.50 L492.71,353.51 L492.71,353.52 L492.71,353.52 L492.71,353.53 L492.71,353.53 L492.71,353.53 L492.71,353.54 L492.70,353.54 L492.70,353.55 L492.70,353.55 L492.70,353.55 L492.70,353.56 L492.70,353.56 L492.70,353.56 L492.70,353.56 L492.70,353.57 L492.70,353.57 L492.70,353.57 L492.70,353.57 L492.70,353.57 L492.70,353.58 L492.70,353.58 L492.70,353.58 L492.70,353.58 L492.70,353.58 L492.70,353.58 L492.70,353.58 L492.70,353.59 L492.70,353.59 L492.70,353.59 L492.70,353.59 L492.70,353.59 L492.70,353.59 L492.70,353.59 L492.70,353.59 L492.70,353.59 L492.70,353.59 L492.70,353.59 L492.70,353.59 L492.70,353.59 L492.70,353.59 L492.70,353.59 L492.70,353.59 L492.70,353.60 L492.70,353.60 L492.70,353.60 L492.70,353.60 L492.70,353.60 L492.70,353.60 L492.70,353.60 L492.70,353.60 L492.70,353.60 L492.70,353.60 L492.70,353.60 L492.70,353.60 L492.70,353.60 L492.70,353.60 L492.70,353.60 L492.70,353.60 L492.70,353.60 L492.70,353.60 L492.70,353.60 L492.70,353.60 L492.70,353.60 L492.70,353.60 L492.70,353.60 L492.70,353.60 L492.70,353.60 L492.70,353.60 L492.70,353.60 L492.70,353.60 L492.70,353.60 L492.70,353.60 L492.70,353.60 L492.70,353.60 L492.70,353.60 L492.70,353.60 L492.70,353.60 L492.70,353.60 L492.70,353.60 L492.70,353.60 L492.70,353.60 L492.70,353.60 L492.70,353.60 L492.70,353.60 L492.70,353.60 L492.70,353.60 L492.70,353.60 L492.70,353.60 L492.70,353.60 L492.70,353.60 L492.70,353.60 L492.70,353.60 L492.70,353.60 L492.70,353.60 L492.70,353.60 L492.70,353.60 L492.70,353.60 L492.70,353.60 L492.70,353.60 L492.70,353.60 L492.70,353.60 L492.70,353.60 L492.70,353.60 L492.70,353.60 L492.70,353.60 L492.70,353.60 L492.70,353.60 L492.70,353.60 L492.70,353.60 L492.70,353.60 L492.70,353.60 L492.70,353.60 L492.70,353.60 L492.70,353.60 L492.70,353.60 L492.70,353.60 L492.70,353.60 L492.70,353.60 L492.70,353.60 L492.70,353.60 L492.70,353.60 L492.70,353.60 L492.70,353.60 L492.70,353.60 L492.70,353.60 L492.70,353.60 L492.70,353.60 L492.70,353.60 L492.70,353.60 L492.70,353.60 L492.70,353.60 L492.70,353.60 L492.70,353.60 L492.70,353.60 L492.70,353.60 L492.70,353.60 L492.70,353.60 L492.70,353.60 L492.70,353.60 L492.70,353.60 L492.70,353.60 L492.70,353.60 L492.70,353.60 L492.70,353.60 L492.70,353.60 L492.70,353.60 L492.70,353.60 L492.70,353.60 L492.70,353.60 L492.70,353.60 L492.70,353.60 L492.70,353.60 L492.70,353.60 L492.70,353.60 L492.70,353.60 L492.70,353.60 L492.70,353.60 L492.70,353.60 L492.70,353.60 L492.70,353.60 L492.70,353.60 L492.70,353.60 L492.70,353.60 L492.70,353.60 L492.70,353.60 L492.70,353.60 L492.70,353.60 L492.70,353.60 L492.70,353.60 L492.70,353.60 L492.70,353.60 L492.70,353.60 L492.70,353.60 L492.70,353.60 L492.70,353.60 L492.70,353.60 L492.70,353.60 L492.70,353.60 L492.70,353.60 L492.70,353.60 L492.70,353.60 L492.70,353.60 L492.70,353.60 L492.70,353.60 L492.70,353.60 L492.70,353.60 L492.70,353.60 L492.70,353.60 L492.70,353.60 L492.70,353.60 L492.70,353.60 L492.70,353.60 L492.70,353.60 L492.70,353.60 L492.70,353.60 L492.70,353.60Z" fill="none" stroke="#ff7f0e" stroke-width="1.8" stroke-linejoin="round"/>
<circle cx="492.7" cy="353.6" r="94.4" fill="none" stroke="#000" stroke-width="1"/>
<g font-size="8.8" fill="#000" text-anchor="middle">
<text x="600.10" y="356.90">0°</text>
<text x="568.64" y="280.96">45°</text>
<text x="492.70" y="249.50">90°</text>
<text x="416.76" y="280.96">135°</text>
<text x="386.30" y="356.90">180°</text>
<text x="417.46" y="432.14">225°</text>
<text x="492.70" y="463.30">270°</text>
<text x="567.94" y="432.14">315°</text>
<text text-anchor="start" x="476.41" y="335.31">0.25</text>
<text text-anchor="start" x="459.72" y="318.62">0.50</text>
<text text-anchor="start" x="443.04" y="301.94">0.75</text>
<text text-anchor="start" x="426.35" y="285.25">1.00</text>
</g>
<rect x="582.6" y="237.5" width="103" height="46.5" rx="2.5" fill="#fff" fill-opacity="0.8" stroke="#ccc" stroke-opacity="0.8" stroke-width="1"/>
<line x1="587.5" y1="249" x2="617.2" y2="249" stroke="#1f77b4" stroke-width="1.8"/>
<line x1="587.5" y1="270" x2="617.2" y2="270" stroke="#ff7f0e" stroke-width="1.8"/>
<text x="627.2" y="254" font-size="14.4"><tspan class="it">p</tspan>(<tspan class="it">α</tspan><tspan class="it" font-size="9.3" dy="3.5">t</tspan><tspan dy="-3.5">|</tspan><tspan class="it">s</tspan><tspan font-size="10.1" dy="3.5">1</tspan><tspan dy="-3.5">)</tspan></text>
<text x="627.2" y="275.2" font-size="14.4"><tspan class="it">p</tspan>(<tspan class="it">α</tspan><tspan class="it" font-size="9.3" dy="3.5">t</tspan><tspan dy="-3.5">|</tspan><tspan class="it">s</tspan><tspan font-size="10.1" dy="3.5">2</tspan><tspan dy="-3.5">)</tspan></text>
</svg></body></html>
